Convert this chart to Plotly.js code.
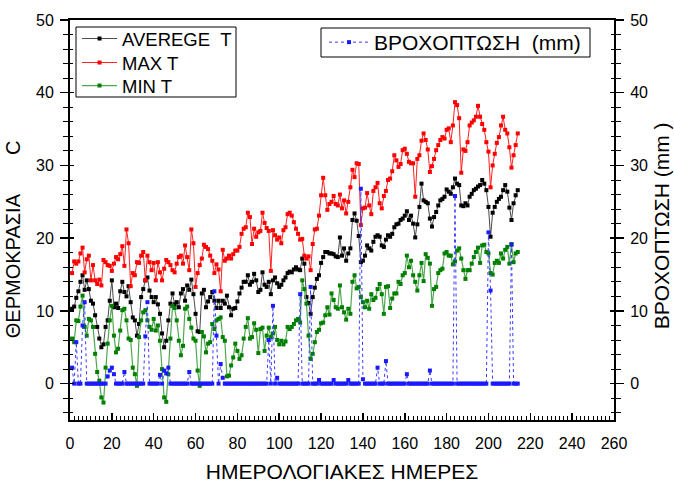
<!DOCTYPE html>
<html><head><meta charset="utf-8">
<script src="https://cdn.plot.ly/plotly-3.0.1.min.js"></script>
<style>html,body{margin:0;padding:0;background:#fff}#chart{width:674px;height:483px}</style>
</head><body><div id="chart"></div>
<script>
// Daily values, day 1 .. 214
const maxT = [
15.2,16.8,16.5,16.8,17.9,18.7,15.3,17.1,17.6,14.2, 16.3,14.2,13.7,14.3,13.5,17.0,16.7,16.3,16.2,15.5,
16.5,17.4,17.1,17.8,18.9,16.2,21.2,19.3,13.4,15.2, 14.9,16.7,16.6,17.6,18.1,14.2,17.6,16.7,15.6,16.6,
14.2,16.7,15.3,14.2,15.8,17.0,16.7,16.3,15.6,15.3, 16.5,17.4,17.6,16.5,19.0,17.4,
15.6,21.2,19.3,13.3,15.2,16.3,17.2,19.1,18.8,18.5, 17.6,16.9,15.2,16.4,15.7,12.7,18.4,16.9,17.2,17.6,
17.2,17.8,18.3,18.3,18.8,20.6,21.3,21.5,23.5,22.9, 19.2,21.3,20.2,20.8,21.0,23.5,22.1,21.4,21.0,15.5,
21.1,20.4,19.8,20.1,19.3,21.1,21.5,23.3,23.5,23.1, 22.2,21.3,20.6,19.8,19.9,17.6,17.2,17.5,
15.6,19.2,21.2,21.3,23.1,25.9,28.3,25.9,23.9,24.7, 25.0,25.8,24.7,24.5,
26.0,24.1,25.2,23.4,25.0,27.0,29.4,28.4,30.3,30.2, 21.8,24.1,24.2,26.2,24.5,23.3,26.5,27.0,27.6,24.8,
24.1,25.8,26.5,28.0,28.2,29.2,31.4,30.7,29.8,30.2, 32.1,32.3,31.6,30.5,30.3,30.3,25.7,30.9,31.4,33.4,
34.4,33.5,32.2,
29.1,29.9,30.9,32.1,32.8,33.5,33.9,33.7,34.9,35.1, 33.2,35.5,38.7,38.3,36.5,29.0,32.2,
32.0,33.2,35.5,35.9,36.2,36.7,38.2,36.7,35.7,34.9, 33.2,31.9,27.0,
30.0,31.6,33.1,33.9,35.5,36.7,34.9,34.4,32.5,29.7, 31.4,32.8,34.4
];
const avgT = [
10.3,10.6,11.8,12.7,14.0,14.9,12.9,14.2,13.0,11.4, 11.0,9.4,7.8,6.2,5.0,5.4,7.8,8.7,11.4,14.2,
10.5,11.0,10.4,12.7,14.0,12.6,12.0,13.4,11.2,9.1, 8.7,6.6,8.2,11.9,13.0,14.2,14.6,12.8,11.9,
11.2,11.9,10.9,9.6,6.9,5.0,5.9,8.7,11.0,12.4, 10.9,11.2,10.5,12.4,13.0,11.4,13.5,
12.9,14.3,12.3,9.6,7.2,7.1,12.4,12.9,10.5,11.3, 11.9,12.6,11.4,10.4,11.4,10.4,11.4,11.0,12.1,10.5,
9.4,10.3,10.4,11.3,12.4,13.2,14.0,14.0,14.9,
13.6,14.0,15.1,14.2,12.6,12.9,15.3,13.6,13.3,14.0, 12.3,14.2,14.6,13.8,13.3,13.6,14.2,14.6,15.2,15.4,
15.3,15.7,16.0,15.7,15.6,17.2,16.5,11.9,11.1,9.6,
11.9,13.2,14.4,14.9,16.6,17.4,18.1,18.1,17.9,17.9, 17.8,17.5,17.4,
20.1,17.6,18.6,16.9,17.9,18.6,22.5,23.4,22.4,20.3, 16.7,
16.9,17.6,19.0,18.6,18.3,19.5,20.2,20.4,20.2,19.0, 18.8,19.8,20.4,20.2,20.6,21.5,21.9,22.0,22.5,22.7,
23.1,23.7,22.5,23.1,22.0,20.1,21.9,24.3,27.5,25.2, 25.0,24.8,
22.7,21.6,22.9,23.6,24.5,25.2,25.4,25.7,26.7,26.4, 26.1,27.0,28.2,27.5,27.3,24.5,
24.4,24.8,24.5,25.7,26.1,26.6,26.8,27.1,27.3,28.0, 27.5,26.6,24.3,20.2,
23.5,24.3,25.0,25.4,25.7,26.6,27.3,26.4,24.2,22.5, 24.8,25.9,26.6
];
const minT = [
6.2,5.7,8.7,8.6,10.6,12.1,7.8,6.6,8.9,8.7, 7.8,4.1,1.6,0.4,-1.9,-2.6,2.2,5.5,8.7,10.7,
6.6,4.3,4.8,7.3,10.1,10.3,8.7,6.2,6.0,2.2, 1.3,-0.3,6.4,8.7,9.8,10.1,
8.7,7.8,7.4,8.9,7.3,8.0,5.9,2.0,-1.9,-2.5, 1.3,6.2,10.7,10.4,8.7,5.9,3.9,5.2,10.3,10.6,
8.9,7.7,6.2,5.9,1.8,-0.3,7.1,6.5,4.3,5.5, 5.7,8.2,7.5,8.7,8.9,9.1,6.4,5.9,1.0,1.1,
2.5,3.6,5.5,4.5,3.4,3.9,6.2,7.8,9.0,
6.2,6.4,8.3,7.4,4.2,7.5,7.7,4.5,6.6,7.7, 6.4,6.9,7.8,6.0,5.4,5.9,5.4,5.8,7.8,7.5,
7.8,8.2,8.7,8.9,8.4,14.2,13.0,11.0,6.6,3.4,
4.1,5.7,7.1,7.4,8.3,8.4,9.4,10.5,9.5,12.4, 11.5,10.5,10.3,
13.5,10.5,9.8,8.8,10.3,9.6,14.0,14.9,13.1,13.3, 11.9,11.2,10.5,11.4,10.3,12.3,11.5,11.8,13.0,13.7,
12.3,9.6,13.3,13.4,10.4,11.7,12.4,12.4,14.0,13.7, 14.9,15.2,17.6,16.0,16.9,14.9,14.0,12.8,14.9,16.6,
14.1,17.8,17.3,
16.5,10.7,13.0,13.3,15.2,15.6,15.8,17.9,18.1,17.6, 17.6,16.4,
16.8,18.3,18.6,17.2,15.6,14.4,15.6,15.6,16.5,17.4, 18.1,18.7,16.6,19.0,19.1,18.1,17.9,15.2,15.0,16.6,
16.9,16.6,17.9,17.2,18.4,18.8,16.5,19.2,16.7,17.9, 18.1
];
const rain = [
2.2,0,5.7,0,0,8.0,11.2,0,0,0,   0,0,0,0,0,0,0,1.0,1.8,2.2,
1.3,0,0,0,0,1.6,0,0,0,0,        0,0,0,0,0,6.5,11.2,0,0,0,
0,0,1.2,0,1.8,1.4,2.2,0,0,0,    0,0,0,0,0,0,1.6,0,0,0,
0,0,0,0,0,0,0,0,12.7,6.6,       0,2.7,0.8,0,0,0,0,0,0,0,
0,0,0,0,0,0,0,0,0,0,            0,0,0,0,6.0,0,10.7,0,0.8,0,
0,0,0,0,0,0,0,0,0,12.3,         0,0,0,0,13.3,0,0,0,0.5,0,
0,0,0,0,0,0.5,0,0,0,0,          0,0,0.5,0,0,0,0,0,26.8,0.6,
0,0,0,0,0,0,2.2,0,0,0,          3.1,0,0,0,0,0,0,0,0,0,
1.3,0,0,0,0,0,0,0,0,0,          0,1.8,0,0,0,0,0,0,0,0,
0,0,0,25.8,0,0,0,0,0,0,         0,0,0,0,0,0,0,0,0,20.8,
12.8,0,0,0,0,0,0,0,0,0,         19.1,0,0,0
];
const days = maxT.map((_, i) => i + 1);

const NB = '\u00a0';
const xTitle = 'ΗΜΕΡΟΛΟΓΙΑΚΕΣ ΗΜΕΡΕΣ';
const yTitle = 'ΘΕΡΜΟΚΡΑΣΙΑ' + NB.repeat(7) + 'C' + NB.repeat(7) + '\u200b';
const y2Title = 'ΒΡΟΧΟΠΤΩΣΗ (mm )' + NB.repeat(2) + '\u200b';
const names = ['AVEREGE' + NB + NB + 'T', 'MAX T', 'MIN T', 'ΒΡΟΧΟΠΤΩΣΗ' + NB + NB + '(mm)'];

const FONT = '"Liberation Sans", Arial, Helvetica, sans-serif';

const traces = [
  {x: days, y: avgT, name: names[0], type: 'scatter', mode: 'lines+markers',
   line: {color: '#4a4a4a', width: 1}, marker: {symbol: 'square', size: 4, color: '#000'}, legend: 'legend'},
  {x: days, y: maxT, name: names[1], type: 'scatter', mode: 'lines+markers',
   line: {color: '#ff2020', width: 1}, marker: {symbol: 'square', size: 4, color: '#ff0000'}, legend: 'legend3'},
  {x: days, y: minT, name: names[2], type: 'scatter', mode: 'lines+markers',
   line: {color: '#4fa84f', width: 1.2}, marker: {symbol: 'square', size: 4, color: '#007f00'}, legend: 'legend4'},
  {x: days, y: rain, name: names[3], type: 'scatter', mode: 'lines+markers', yaxis: 'y2',
   line: {color: '#3a3aff', width: 1, dash: 'dot'}, marker: {symbol: 'square', size: 4, color: '#1a1aff'}, legend: 'legend2'},
  {x: [], y: [], yaxis: 'y3', type: 'scatter', showlegend: false},
  {x: [], y: [], yaxis: 'y4', type: 'scatter', showlegend: false}
];

const yCommon = {
  range: [-5, 50], tickmode: 'linear', tick0: 0, dtick: 10,
  showgrid: false, zeroline: false, tickcolor: '#000', tickwidth: 1.5
};

function legendAt(y, x, size, w) {
  return {x: x, y: y, xanchor: 'left', yanchor: 'middle',
    bgcolor: 'rgba(0,0,0,0)', borderwidth: 0,
    font: {family: FONT, size: size, color: '#000'}, itemwidth: w};
}

const layout = {
  width: 674, height: 483,
  margin: {l: 70, r: 60, t: 20, b: 63, pad: 0},
  paper_bgcolor: '#fff', plot_bgcolor: '#fff',
  font: {family: FONT, size: 16, color: '#000'},
  showlegend: true,
  xaxis: {
    range: [0, 260], tickmode: 'linear', tick0: 0, dtick: 20,
    ticks: 'inside', ticklen: 7, tickwidth: 1.5, tickcolor: '#000',
    minor: {dtick: 2, ticks: 'inside', ticklen: 4, tickwidth: 1, tickcolor: '#000'},
    showline: true, linewidth: 2, linecolor: '#000', mirror: true,
    showgrid: false, zeroline: false, ticklabelstandoff: 8,
    title: {text: xTitle, font: {size: 21}, standoff: 13}
  },
  yaxis: Object.assign({}, yCommon, {
    ticks: 'outside', ticklen: 8,
    minor: {dtick: 2, ticks: 'outside', ticklen: 5, tickwidth: 1, tickcolor: '#000'},
    showline: true, linewidth: 2, linecolor: '#000', ticklabelstandoff: 3,
    title: {text: yTitle, font: {size: 20}, standoff: 10}
  }),
  yaxis2: Object.assign({}, yCommon, {
    overlaying: 'y', side: 'right', anchor: 'x',
    ticks: 'outside', ticklen: 8,
    minor: {dtick: 2, ticks: 'outside', ticklen: 5, tickwidth: 1, tickcolor: '#000'},
    showline: true, linewidth: 2, linecolor: '#000', ticklabelstandoff: 3,
    title: {text: y2Title, font: {size: 21}, standoff: 7}
  }),
  yaxis3: Object.assign({}, yCommon, {
    overlaying: 'y', side: 'left', anchor: 'x', showticklabels: false, showline: false,
    ticks: 'inside', ticklen: 4,
    minor: {dtick: 2, ticks: 'inside', ticklen: 3, tickwidth: 1, tickcolor: '#000'}
  }),
  yaxis4: Object.assign({}, yCommon, {
    overlaying: 'y', side: 'right', anchor: 'x', showticklabels: false, showline: false,
    ticks: 'inside', ticklen: 4,
    minor: {dtick: 2, ticks: 'inside', ticklen: 3, tickwidth: 1, tickcolor: '#000'}
  }),
  legend: legendAt(0.9525, 0.0129, 18.5, 35),
  legend3: legendAt(0.8925, 0.0129, 18.5, 35),
  legend4: legendAt(0.835, 0.0129, 18.5, 35),
  legend2: legendAt(0.94375, 0.4669, 21, 40),
  shapes: [
    {type: 'rect', xref: 'paper', yref: 'paper', x0: 0.01103, x1: 0.30515, y0: 0.8075, y1: 0.9825,
     line: {color: '#000', width: 1}, fillcolor: '#fff', layer: 'below'},
    {type: 'rect', xref: 'paper', yref: 'paper', x0: 0.4614, x1: 0.9559, y0: 0.9075, y1: 0.98,
     line: {color: '#000', width: 1}, fillcolor: '#fff', layer: 'below'}
  ]
};

Plotly.newPlot('chart', traces, layout, {displayModeBar: false, staticPlot: true});
</script>
</body></html>
